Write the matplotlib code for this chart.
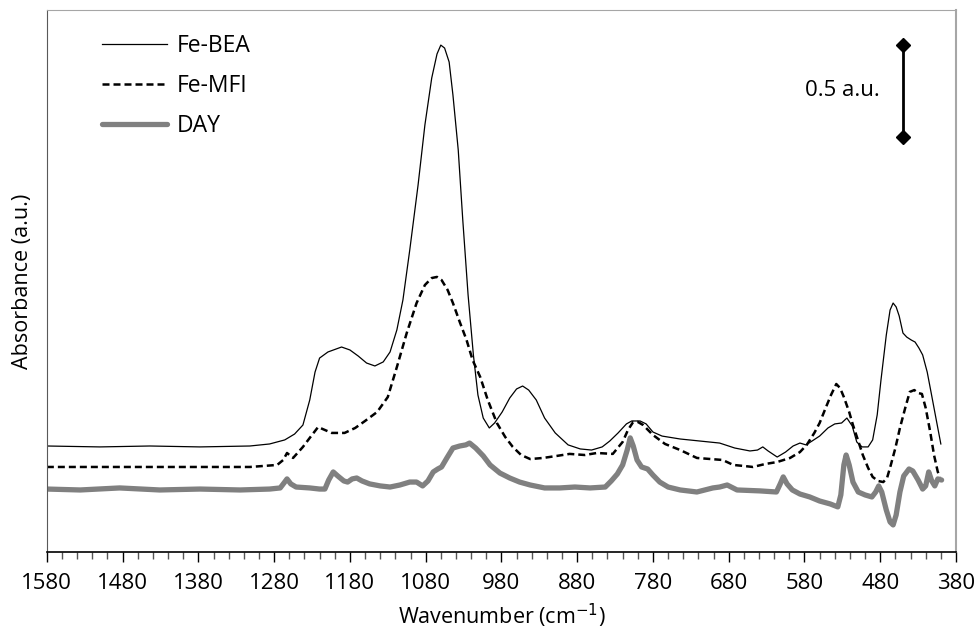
import matplotlib
matplotlib.use("Agg")
import matplotlib.pyplot as plt
from matplotlib.ticker import MultipleLocator

plt.rcParams['font.family'] = ['Open Sans', 'DejaVu Sans']

# FTIR spectra, wavenumber (cm-1) vs absorbance (a.u.)
bea_wn = [1580, 1510, 1444, 1378, 1312, 1286, 1266, 1253, 1242, 1233, 1226, 1220, 1209, 1191, 1180,
          1169, 1158, 1147, 1136, 1127, 1118, 1110, 1101, 1090, 1081, 1072, 1065, 1060, 1055, 1049,
          1044, 1037, 1031, 1024, 1017, 1011, 1004, 996, 989, 979, 969, 960, 952, 944, 934, 923, 909,
          892, 876, 861, 847, 837, 826, 815, 808, 797, 789, 780, 768, 744, 718, 692, 672, 652, 642,
          635, 628, 616, 605, 595, 586, 578, 570, 560, 549, 540, 531, 524, 517, 511, 504, 496, 490,
          484, 479, 472, 467, 463, 459, 455, 450, 445, 439, 434, 429, 424, 418, 413, 406, 400]
bea_abs = [0.576, 0.571, 0.576, 0.571, 0.576, 0.587, 0.609, 0.641, 0.690, 0.826, 0.978, 1.054, 1.087,
           1.114, 1.098, 1.065, 1.027, 1.011, 1.033, 1.087, 1.207, 1.370, 1.641, 1.995, 2.321, 2.576,
           2.707, 2.755, 2.739, 2.663, 2.484, 2.185, 1.804, 1.397, 1.071, 0.853, 0.728, 0.674, 0.701,
           0.761, 0.837, 0.886, 0.902, 0.880, 0.826, 0.728, 0.647, 0.582, 0.560, 0.554, 0.571, 0.603,
           0.647, 0.696, 0.712, 0.712, 0.696, 0.652, 0.630, 0.614, 0.603, 0.592, 0.565, 0.549, 0.554,
           0.571, 0.549, 0.516, 0.543, 0.576, 0.592, 0.582, 0.603, 0.630, 0.674, 0.696, 0.701, 0.728,
           0.685, 0.598, 0.571, 0.571, 0.609, 0.745, 0.935, 1.179, 1.315, 1.353, 1.332, 1.283, 1.190,
           1.168, 1.152, 1.141, 1.109, 1.071, 0.978, 0.870, 0.717, 0.587]

mfi_wn = [1580, 1444, 1312, 1276, 1268, 1263, 1255, 1242, 1233, 1222, 1213, 1204, 1187, 1173, 1160,
          1144, 1130, 1118, 1105, 1092, 1081, 1072, 1065, 1059, 1051, 1044, 1035, 1026, 1018, 1008,
          998, 986, 975, 965, 954, 942, 925, 907, 890, 870, 854, 833, 820, 813, 806, 800, 793, 780,
          764, 744, 722, 688, 674, 659, 648, 632, 616, 599, 586, 577, 567, 560, 552, 545, 538, 533,
          528, 521, 516, 509, 503, 496, 490, 483, 476, 471, 466, 460, 454, 447, 441, 435, 430, 425,
          420, 414, 409, 404, 401]
mfi_abs = [0.462, 0.462, 0.462, 0.473, 0.500, 0.538, 0.511, 0.571, 0.620, 0.679, 0.663, 0.647, 0.647,
           0.674, 0.712, 0.761, 0.842, 1.005, 1.190, 1.353, 1.451, 1.489, 1.495, 1.478, 1.424, 1.353,
           1.250, 1.152, 1.043, 0.951, 0.826, 0.701, 0.625, 0.571, 0.527, 0.505, 0.511, 0.522, 0.533,
           0.527, 0.538, 0.533, 0.598, 0.663, 0.707, 0.707, 0.690, 0.636, 0.587, 0.554, 0.511, 0.500,
           0.473, 0.467, 0.462, 0.478, 0.489, 0.511, 0.543, 0.582, 0.647, 0.701, 0.783, 0.853, 0.913,
           0.891, 0.842, 0.761, 0.690, 0.603, 0.527, 0.457, 0.408, 0.386, 0.380, 0.402, 0.473, 0.565,
           0.674, 0.783, 0.870, 0.880, 0.864, 0.859, 0.783, 0.652, 0.527, 0.435, 0.408]

day_wn = [1580, 1536, 1484, 1431, 1378, 1325, 1286, 1272, 1267, 1263, 1258, 1251, 1233, 1220, 1213,
          1208, 1202, 1196, 1188, 1183, 1177, 1171, 1164, 1154, 1140, 1127, 1114, 1101, 1092, 1084,
          1077, 1070, 1064, 1059, 1052, 1044, 1035, 1027, 1022, 1014, 1004, 995, 982, 969, 956, 942,
          923, 903, 883, 863, 843, 835, 827, 820, 814, 810, 806, 801, 795, 787, 780, 771, 760, 744,
          722, 701, 692, 682, 669, 639, 617, 612, 608, 603, 596, 586, 573, 560, 546, 536, 532, 528,
          525, 521, 516, 509, 500, 491, 486, 482, 478, 472, 467, 463, 459, 454, 449, 442, 437, 430,
          424, 420, 416, 412, 408, 404, 399]
day_abs = [0.342, 0.337, 0.348, 0.337, 0.342, 0.337, 0.342, 0.348, 0.375, 0.397, 0.370, 0.353, 0.348,
           0.342, 0.342, 0.391, 0.435, 0.413, 0.386, 0.380, 0.397, 0.402, 0.386, 0.370, 0.359, 0.353,
           0.364, 0.380, 0.380, 0.359, 0.386, 0.435, 0.451, 0.462, 0.511, 0.565, 0.576, 0.582, 0.592,
           0.565, 0.522, 0.473, 0.429, 0.402, 0.380, 0.364, 0.348, 0.348, 0.353, 0.348, 0.353, 0.386,
           0.424, 0.473, 0.554, 0.620, 0.576, 0.500, 0.462, 0.451, 0.418, 0.380, 0.353, 0.337, 0.326,
           0.348, 0.353, 0.364, 0.337, 0.332, 0.326, 0.370, 0.408, 0.370, 0.337, 0.315, 0.299, 0.277,
           0.261, 0.245, 0.310, 0.473, 0.527, 0.473, 0.380, 0.326, 0.310, 0.299, 0.326, 0.359, 0.326,
           0.228, 0.163, 0.147, 0.201, 0.326, 0.413, 0.451, 0.440, 0.391, 0.342, 0.359, 0.435, 0.386,
           0.359, 0.397, 0.391]

# 0.5 a.u. scale bar
bar_wn = [450, 450]
bar_abs = [2.255, 2.755]

fig = plt.figure(figsize=(9.76, 6.39), dpi=100)
ax = fig.add_axes([0.048, 0.1362, 0.9315, 0.8482])

ax.plot(bea_wn, bea_abs, color='black', lw=0.9, label='Fe-BEA')
ax.plot(mfi_wn, mfi_abs, color='black', lw=1.8, dashes=(2.8, 1.6), label='Fe-MFI')
ax.plot(day_wn, day_abs, color='#808080', lw=3.8, solid_capstyle='round',
        solid_joinstyle='round', label='DAY')

ax.plot(bar_wn, bar_abs, color='black', lw=2.0, marker='D', markersize=7)
ax.text(481, 2.51, '0.5 a.u.', fontsize=16, ha='right', va='center')

ax.set_xlim(1580, 380)
ax.set_ylim(0, 2.946)
ax.xaxis.set_minor_locator(MultipleLocator(20))
ax.set_xticks(range(1580, 379, -100))
ax.tick_params(axis='x', which='major', direction='out', length=7, width=1, labelsize=16, pad=8)
ax.tick_params(axis='x', which='minor', direction='out', length=5, width=1, color='#555555')
ax.set_yticks([])

ax.spines['bottom'].set_color('black')
ax.spines['bottom'].set_linewidth(1.2)
ax.spines['left'].set_color('#595959')
ax.spines['top'].set_color('#a6a6a6')
ax.spines['right'].set_color('#a6a6a6')
ax.spines['right'].set_linewidth(1.5)

ax.set_xlabel('Wavenumber (cm$^{-1}$)', fontsize=15.5, labelpad=6)
ax.set_ylabel('Absorbance (a.u.)', fontsize=15.5, labelpad=10)

ax.legend(loc='upper left', bbox_to_anchor=(0.0605, 0.955), frameon=False, fontsize=16.5,
          handlelength=2.85, handletextpad=0.4, labelspacing=0.7, borderpad=0, borderaxespad=0)

fig.savefig('out.png', dpi=100)
